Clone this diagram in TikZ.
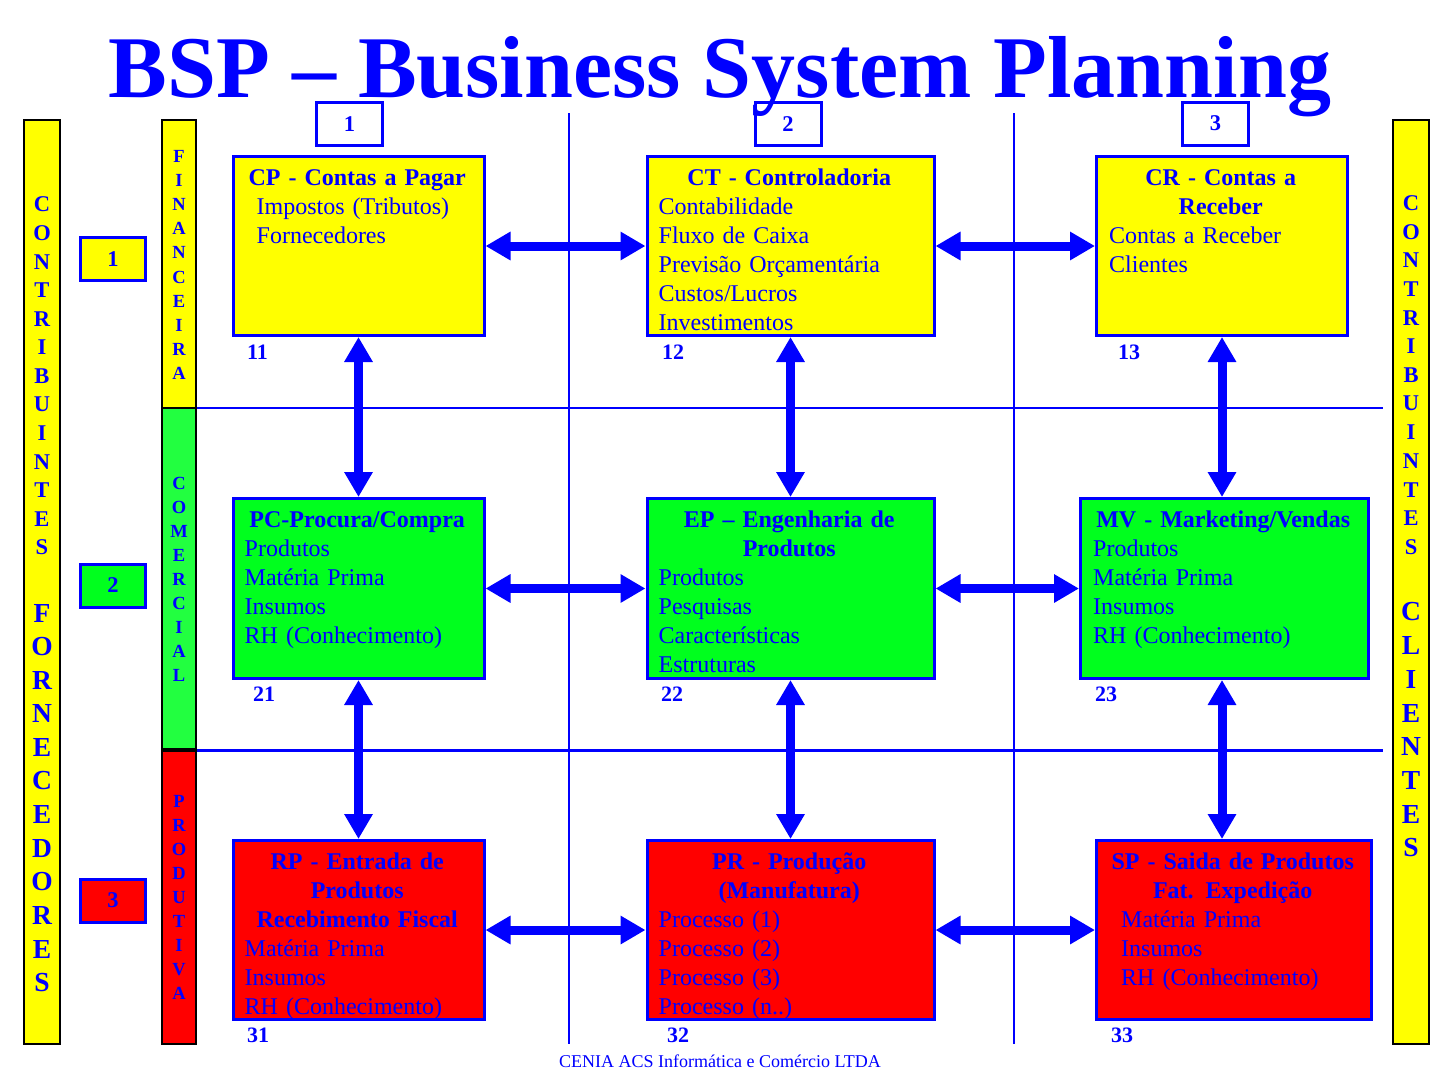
\documentclass[tikz,border=0pt]{standalone}
\usepackage{fontspec}
\setmainfont{Liberation Serif}
\usetikzlibrary{arrows.meta}
\definecolor{bspblue}{RGB}{0,0,255}
\definecolor{bspyellow}{RGB}{255,255,0}
\definecolor{bspgreen}{RGB}{0,255,30}
\definecolor{bargreen}{RGB}{34,255,64}
\definecolor{bspred}{RGB}{255,0,0}
\newcommand\bxt[1]{\makebox[\linewidth][c]{\bfseries #1}}
\newcommand\bxl[2]{\hspace*{#1pt}#2}
\begin{document}
\begin{tikzpicture}[x=1pt,y=-1pt,
  procbox/.style={draw=bspblue, line width=3pt, inner sep=0pt, minimum height=179pt},
  barrect/.style={draw=black, line width=1.2pt},
  numbox/.style={draw=bspblue, line width=3pt, minimum width=65pt, minimum height=43pt, inner sep=0pt, text=bspblue, font=\bfseries\fontsize{22.5}{22.5}\selectfont},
  boxtext/.style={inner sep=0pt, align=left, text=bspblue, font=\fontsize{24}{29}\selectfont, anchor=base west},
  numlabel/.style={inner sep=0pt, anchor=base west, text=bspblue, font=\bfseries\fontsize{22}{22}\selectfont},
  gridline/.style={draw=bspblue, line width=2pt},
  dblarrow/.style={draw=bspblue, line width=9pt, {Triangle[width=27pt,length=25pt]}-{Triangle[width=27pt,length=25pt]}},
  lettersm/.style={inner sep=0pt, text=bspblue, font=\bfseries\fontsize{18.5}{18.5}\selectfont},
  lettermd/.style={inner sep=0pt, text=bspblue, font=\bfseries\fontsize{22.5}{22.5}\selectfont},
  letterbg/.style={inner sep=0pt, text=bspblue, font=\bfseries\fontsize{27.5}{27.5}\selectfont}
]
\useasboundingbox (0,0) rectangle (1439,1080);
\fill[white] (0,0) rectangle (1439,1080);

% grid lines
\coordinate (v1t) at (569,113); \coordinate (v1b) at (569,1044);
\coordinate (v2t) at (1014,113); \coordinate (v2b) at (1014,1044);
\coordinate (h1l) at (196,408); \coordinate (h1r) at (1383,408);
\coordinate (h2l) at (196,750.5); \coordinate (h2r) at (1383,750.5);
\draw[gridline] (v1t) -- (v1b);
\draw[gridline] (v2t) -- (v2b);
\draw[gridline, line width=2.5pt] (h1l) -- (h1r);
\draw[gridline, line width=2.5pt] (h2l) -- (h2r);

% side bars
\draw[barrect, fill=bspyellow] (24,120) rectangle (60,1044);
\draw[barrect, fill=bspyellow] (1393,120) rectangle (1429,1044);
\draw[barrect, fill=bspyellow] (162,120) rectangle (196,408);
\draw[barrect, fill=bargreen] (162,408) rectangle (196,749);
\draw[barrect, fill=bspred] (162,751) rectangle (196,1044);

% bar letters
\foreach \ch [count=\i from 0] in {C,O,N,T,R,I,B,U,I,N,T,E,S}
  \node[lettermd] (la\i) at (42,{204.5+28.57*\i}) {\ch};
\foreach \ch [count=\i from 0] in {F,O,R,N,E,C,E,D,O,R,E,S}
  \node[letterbg] (lb\i) at (42,{613+33.6*\i}) {\ch};
\foreach \ch [count=\i from 0] in {C,O,N,T,R,I,B,U,I,N,T,E,S}
  \node[lettermd] (ra\i) at (1411,{203+28.67*\i}) {\ch};
\foreach \ch [count=\i from 0] in {C,L,I,E,N,T,E,S}
  \node[letterbg] (rb\i) at (1411,{612+33.7*\i}) {\ch};
\foreach \ch [count=\i from 0] in {F,I,N,A,N,C,E,I,R,A}
  \node[lettersm] (fa\i) at (179,{156.5+24.1*\i}) {\ch};
\foreach \ch [count=\i from 0] in {C,O,M,E,R,C,I,A,L}
  \node[lettersm] (co\i) at (179,{483+24*\i}) {\ch};
\foreach \ch [count=\i from 0] in {P,R,O,D,U,T,I,V,A}
  \node[lettersm] (pd\i) at (179,{801+24.06*\i}) {\ch};

% number boxes
\node[numbox, fill=bspyellow] (r1) at (113,259) {1};
\node[numbox, fill=bspgreen] (r2) at (113,585.5) {2};
\node[numbox, fill=bspred] (r3) at (113,900.5) {3};
\node[numbox, fill=white, minimum width=66pt] (c1) at (349.5,124) {1};
\node[numbox, fill=white, minimum width=66pt] (c2) at (788,124) {2};
\node[numbox, fill=white, minimum width=66pt] (c3) at (1215.5,123.5) {3};

% title (drawn over the column boxes)
\node[inner sep=0pt, anchor=base, text=bspblue, font=\bfseries\fontsize{88}{88}\selectfont] (title) at (720,97) {BSP – Business System Planning};

% process boxes
\node[procbox, fill=bspyellow, minimum width=251pt] (cp) at (358.5,246) {};
\node[procbox, fill=bspyellow, minimum width=287pt] (ct) at (790.5,246) {};
\node[procbox, fill=bspyellow, minimum width=251pt] (cr) at (1222,246) {};
\node[procbox, fill=bspgreen, minimum width=251pt, minimum height=180pt] (pc) at (358.5,588.5) {};
\node[procbox, fill=bspgreen, minimum width=287pt, minimum height=180pt] (ep) at (790.5,588.5) {};
\node[procbox, fill=bspgreen, minimum width=288pt, minimum height=180pt] (mv) at (1224.5,588.5) {};
\node[procbox, fill=bspred, minimum width=251pt] (rp) at (358.5,930) {};
\node[procbox, fill=bspred, minimum width=287pt] (pr) at (790.5,930) {};
\node[procbox, fill=bspred, minimum width=275pt] (sp) at (1234,930) {};

% box texts
\node[boxtext, text width=251pt] (cptx) at ([yshift=-30.5pt]cp.north west)
  {\bxt{CP - Contas a Pagar}\\ \bxl{25}{Impostos (Tributos)}\\ \bxl{25}{Fornecedores}};
\node[boxtext, text width=287pt] (cttx) at ([yshift=-30.5pt]ct.north west)
  {\bxt{CT - Controladoria}\\ \bxl{13}{Contabilidade}\\ \bxl{13}{Fluxo de Caixa}\\ \bxl{13}{Previsão Orçamentária}\\ \bxl{13}{Custos/Lucros}\\ \bxl{13}{Investimentos}};
\node[boxtext, text width=251pt] (crtx) at ([yshift=-30.5pt]cr.north west)
  {\bxt{CR - Contas a}\\ \bxt{Receber}\\ \bxl{14}{Contas a Receber}\\ \bxl{14}{Clientes}};
\node[boxtext, text width=251pt] (pctx) at ([yshift=-30.5pt]pc.north west)
  {\bxt{PC-Procura/Compra}\\ \bxl{13}{Produtos}\\ \bxl{13}{Matéria Prima}\\ \bxl{13}{Insumos}\\ \bxl{13}{RH (Conhecimento)}};
\node[boxtext, text width=287pt] (eptx) at ([yshift=-30.5pt]ep.north west)
  {\bxt{EP – Engenharia de}\\ \bxt{Produtos}\\ \bxl{13}{Produtos}\\ \bxl{13}{Pesquisas}\\ \bxl{13}{Características}\\ \bxl{13}{Estruturas}};
\node[boxtext, text width=288pt] (mvtx) at ([yshift=-30.5pt]mv.north west)
  {\bxt{MV - Marketing/Vendas}\\ \bxl{14}{Produtos}\\ \bxl{14}{Matéria Prima}\\ \bxl{14}{Insumos}\\ \bxl{14}{RH (Conhecimento)}};
\node[boxtext, text width=251pt] (rptx) at ([yshift=-30.5pt]rp.north west)
  {\bxt{RP - Entrada de}\\ \bxt{Produtos}\\ \bxt{Recebimento Fiscal}\\ \bxl{13}{Matéria Prima}\\ \bxl{13}{Insumos}\\ \bxl{13}{RH (Conhecimento)}};
\node[boxtext, text width=287pt] (prtx) at ([yshift=-30.5pt]pr.north west)
  {\bxt{PR - Produção}\\ \bxt{(Manufatura)}\\ \bxl{13}{Processo (1)}\\ \bxl{13}{Processo (2)}\\ \bxl{13}{Processo (3)}\\ \bxl{13}{Processo (n..)}};
\node[boxtext, text width=275pt] (sptx) at ([yshift=-30.5pt]sp.north west)
  {\bxt{SP - Saida de Produtos}\\ \bxt{Fat. Expedição}\\ \bxl{26}{Matéria Prima}\\ \bxl{26}{Insumos}\\ \bxl{26}{RH (Conhecimento)}};

% number labels
\node[numlabel] (n11) at (247,359) {11};
\node[numlabel] (n12) at (662,359) {12};
\node[numlabel] (n13) at (1118,359) {13};
\node[numlabel] (n21) at (253,701) {21};
\node[numlabel] (n22) at (661,701) {22};
\node[numlabel] (n23) at (1095,701) {23};
\node[numlabel] (n31) at (247,1042) {31};
\node[numlabel] (n32) at (667,1042) {32};
\node[numlabel] (n33) at (1111,1042) {33};

% arrows
\draw[dblarrow] (cp.east) -- (ct.west);
\draw[dblarrow] (ct.east) -- (cr.west);
\draw[dblarrow] (pc.east) -- (ep.west);
\draw[dblarrow] (ep.east) -- (mv.west);
\draw[dblarrow] (rp.east) -- (pr.west);
\draw[dblarrow] (pr.east) -- (sp.west);
\draw[dblarrow] (cp.south) -- (pc.north);
\draw[dblarrow] (pc.south) -- (rp.north);
\draw[dblarrow] (ct.south) -- (ep.north);
\draw[dblarrow] (ep.south) -- (pr.north);
\draw[dblarrow] (cr.south) -- (cr.south |- mv.north);
\draw[dblarrow] (cr.south |- mv.south) -- (cr.south |- sp.north);

% footer
\node[inner sep=0pt, anchor=base, text=bspblue, font=\fontsize{18}{18}\selectfont] (footer) at (720,1067.5) {CENIA ACS Informática e Comércio LTDA};
\end{tikzpicture}
\end{document}
